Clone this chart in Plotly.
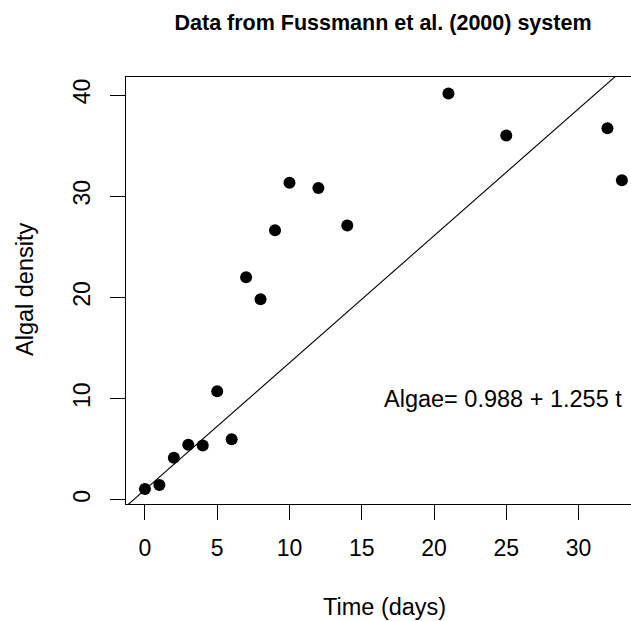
import plotly.graph_objects as go

# Data
time_days = [0, 1, 2, 3, 4, 5, 6, 7, 8, 9, 10, 12, 14, 21, 25, 32, 33]
algal_density = [1.06, 1.45, 4.15, 5.43, 5.37, 10.73, 5.99, 22.0, 19.82, 26.63,
                 31.34, 30.81, 27.1, 40.16, 36.0, 36.72, 31.57]
intercept = 0.988
slope = 1.255
x_ticks = [0, 5, 10, 15, 20, 25, 30]
y_ticks = [0, 10, 20, 30, 40]

title_text = "Data from Fussmann et al. (2000) system"
x_label = "Time (days)"
y_label = "Algal density"
eq_text = "Algae= %.3f + %.3f t" % (intercept, slope)

x_range = [-1.31, 33.63]
y_range = [-0.42, 41.78]

FONT = "Liberation Sans, Arial, Helvetica, sans-serif"

# regression line across full (R-style) plot region, clipped by the axes
line_x = [-1.32, 34.32]
line_y = [intercept + slope * v for v in line_x]

fig = go.Figure()
fig.add_trace(go.Scatter(
    x=line_x, y=line_y, mode="lines",
    line=dict(color="black", width=1.1), hoverinfo="skip", showlegend=False,
))
fig.add_trace(go.Scatter(
    x=time_days, y=algal_density, mode="markers",
    marker=dict(color="black", size=12, line=dict(width=0)),
    showlegend=False, cliponaxis=False,
))

fig.update_layout(
    width=631, height=621,
    margin=dict(l=126, r=0, t=77, b=117, pad=0, autoexpand=False),
    paper_bgcolor="white", plot_bgcolor="white",
    font=dict(family=FONT, color="black", size=23),
    title=dict(text="<b>" + title_text + "</b>", x=383 / 631, xanchor="center",
               xref="container", y=1 - 22 / 621, yanchor="middle", yref="container",
               font=dict(family=FONT, size=21.5, color="black")),
    showlegend=False,
)

fig.update_xaxes(
    range=x_range, tickmode="array", tickvals=x_ticks,
    ticktext=[str(v) for v in x_ticks],
    showgrid=False, zeroline=False, automargin=False,
    showline=True, linecolor="black", linewidth=1, mirror=True,
    ticks="outside", ticklen=15, tickwidth=1, tickcolor="black",
    tickfont=dict(size=23), ticklabelstandoff=8,
)
fig.update_yaxes(
    range=y_range, tickmode="array", tickvals=y_ticks,
    ticktext=[str(v) for v in y_ticks],
    showgrid=False, zeroline=False, automargin=False,
    showline=True, linecolor="black", linewidth=1, mirror=False,
    ticks="outside", ticklen=15, tickwidth=1, tickcolor="black",
    tickfont=dict(size=23), tickangle=-90, ticklabelstandoff=11,
)

fig.add_annotation(text=x_label, xref="paper", yref="paper",
                   x=(384.5 - 126) / 505, y=-(607 - 504) / 427,
                   xanchor="center", yanchor="middle", showarrow=False,
                   font=dict(size=23.5))
fig.add_annotation(text=y_label, xref="paper", yref="paper",
                   x=(25 - 126) / 505, y=0.5 - (290 - 290.5) / 427,
                   xanchor="center", yanchor="middle", textangle=-90, showarrow=False,
                   font=dict(size=23.5))
fig.add_annotation(text=eq_text, xref="x", yref="y", x=24.75, y=10,
                   xanchor="center", yanchor="middle", showarrow=False,
                   font=dict(size=23.5))

fig.write_html("out.html", config={"displayModeBar": False},
               post_script="document.body.style.margin='0';document.body.style.overflow='hidden';")
